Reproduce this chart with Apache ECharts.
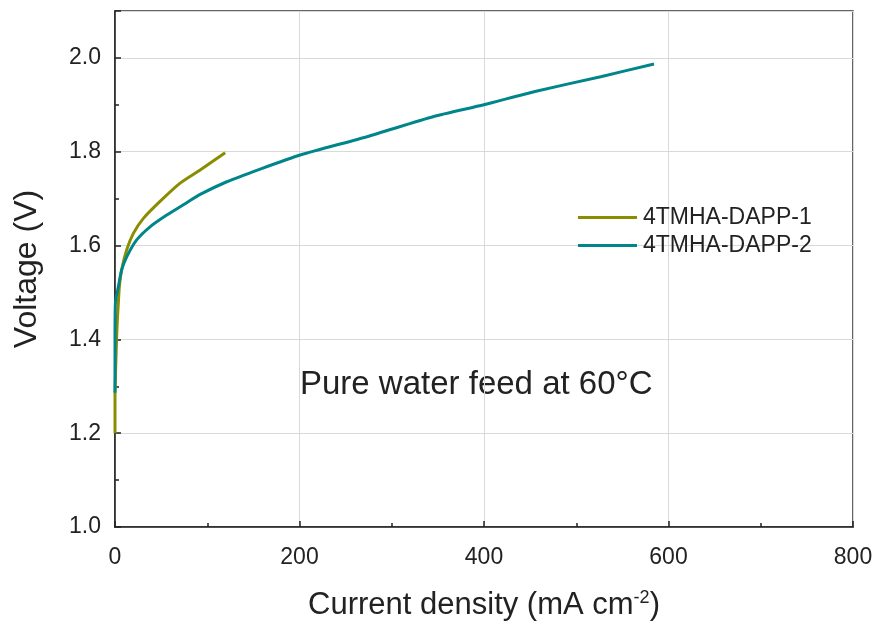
<!DOCTYPE html>
<html>
<head>
<meta charset="utf-8">
<script src="https://cdn.jsdelivr.net/npm/echarts@6/dist/echarts.min.js"></script>
<style>html,body{margin:0;padding:0;background:#fff}#c{width:877px;height:633px}</style>
</head>
<body>
<div id="c"></div>
<script>
const seriesNames = ['4TMHA-DAPP-1', '4TMHA-DAPP-2'];
// [current density (mA cm-2), voltage (V)]
const dapp1 = [[0,1.20],[0,1.28],[0.6,1.33],[1.5,1.39],[2.5,1.44],[3.6,1.477],[4.7,1.512],[7.2,1.548],[12.7,1.591],[19.9,1.626],[30.8,1.658],[48.8,1.694],[70.6,1.733],[92.3,1.761],[119.4,1.798]];
const dapp2 = [[0,1.286],[0,1.40],[0.5,1.48],[3.6,1.512],[7.2,1.548],[12.7,1.576],[23.5,1.612],[38,1.640],[56.1,1.665],[74.1,1.687],[92.3,1.709],[121.2,1.736],[157.4,1.763],[200.8,1.793],[273.2,1.832],[345.5,1.875],[399.8,1.900],[454.1,1.928],[526.5,1.960],[584.3,1.987]];
const xTicks = {min:0, max:800, interval:200};
const yTicks = {min:1.0, max:2.1, interval:0.2};
const annotation = 'Pure water feed at 60°C';

const FONT = '"Liberation Sans", Arial, sans-serif';
const chart = echarts.init(document.getElementById('c'));
chart.setOption({
  animation:false,
  backgroundColor:'#fff',
  grid:{left:115, right:24, top:11, bottom:106, show:true, borderColor:'#333', borderWidth:1.5, backgroundColor:'transparent'},
  legend:{
    left:573, top:201, orient:'vertical', icon:'rect', itemWidth:59, itemHeight:3, itemGap:5,
    textStyle:{fontFamily:FONT, fontSize:23, color:'#222', lineHeight:22, padding:[0,0,0,1]},
    data:seriesNames
  },
  xAxis:{
    type:'value', min:xTicks.min, max:xTicks.max, interval:xTicks.interval,
    name:'{a|Current density (mA cm}{s|-2}{a|)}', nameLocation:'middle', nameGap:62,
    nameTextStyle:{rich:{a:{fontFamily:FONT, fontSize:31, color:'#222'}, s:{fontFamily:FONT, fontSize:18, color:'#222', verticalAlign:'bottom', padding:[0,0,15,0]}}},
    axisLine:{show:true, lineStyle:{color:'#222', width:1.5}},
    axisTick:{show:true, inside:true, length:6, lineStyle:{color:'#222', width:1.5}},
    minorTick:{show:true, splitNumber:2, length:4, lineStyle:{color:'#222', width:1.5}},
    axisLabel:{fontFamily:FONT, fontSize:23, color:'#222', margin:19},
    splitLine:{show:true, lineStyle:{color:'#d9d9d9', width:1}}
  },
  yAxis:{
    type:'value', min:yTicks.min, max:yTicks.max, interval:yTicks.interval,
    name:'Voltage (V)', nameLocation:'middle', nameGap:72,
    nameTextStyle:{fontFamily:FONT, fontSize:32, color:'#222'},
    axisLine:{show:true, lineStyle:{color:'#222', width:1.5}},
    axisTick:{show:true, inside:true, length:6, lineStyle:{color:'#222', width:1.5}},
    minorTick:{show:true, splitNumber:2, length:4, lineStyle:{color:'#222', width:1.5}},
    axisLabel:{fontFamily:FONT, fontSize:23, color:'#222', margin:14, showMaxLabel:false,
      formatter:v => v.toFixed(1)},
    splitLine:{show:true, lineStyle:{color:'#d9d9d9', width:1}}
  },
  graphic:[{type:'text', left:300, top:368, style:{text:annotation, font:'33px "Liberation Sans", Arial, sans-serif', fill:'#222'}}],
  series:[
    {name:seriesNames[0], type:'line', data:dapp1, showSymbol:false, symbol:'none', smooth:0.2, lineStyle:{color:'#8c8c00', width:3}, itemStyle:{color:'#8c8c00'}, z:2},
    {name:seriesNames[1], type:'line', data:dapp2, showSymbol:false, symbol:'none', smooth:0.2, lineStyle:{color:'#00858a', width:3}, itemStyle:{color:'#00858a'}, z:3}
  ]
});
</script>
</body>
</html>
